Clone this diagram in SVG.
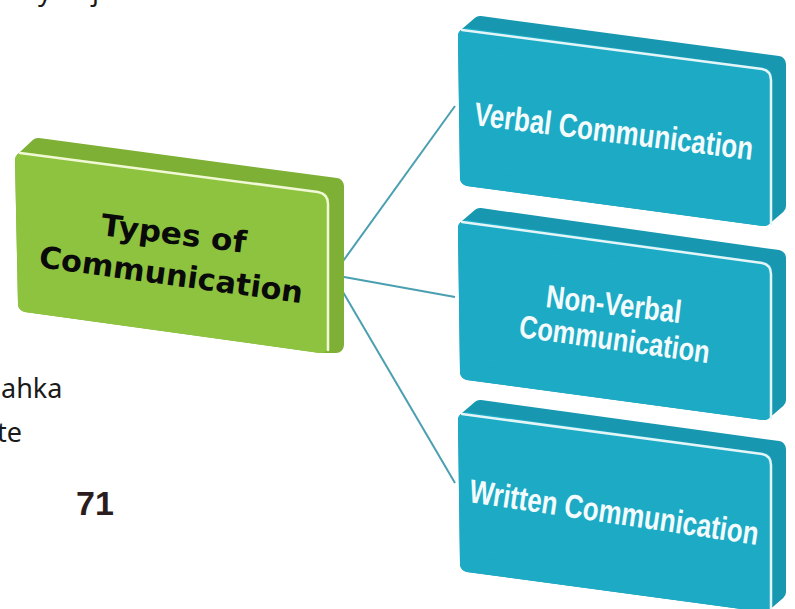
<svg xmlns="http://www.w3.org/2000/svg" width="795" height="609" viewBox="0 0 795 609">
<style>
.bk-b{fill:#1797b0;stroke:#1797b0;stroke-width:16;stroke-linejoin:round}
.fr-b{fill:#1caac5;stroke:#1caac5;stroke-width:16;stroke-linejoin:round}
.bk-g{fill:#7db034;stroke:#7db034;stroke-width:16;stroke-linejoin:round}
.fr-g{fill:#8dc33f;stroke:#8dc33f;stroke-width:16;stroke-linejoin:round}
.hl-b{fill:none;stroke:#e4f5f8;stroke-width:2.5;stroke-linecap:round}
.hl-g{fill:none;stroke:#f1f8d6;stroke-width:2.5;stroke-linecap:round}
.bt{font-family:"Liberation Sans Narrow","Liberation Sans",Arial,sans-serif;font-weight:bold;fill:#f4fbfc;lengthAdjust:spacingAndGlyphs}
.gt{font-family:"DejaVu Sans",sans-serif;font-weight:bold;fill:#0a0a0a}
.pg{font-family:"Noto Sans","Open Sans",sans-serif;font-size:27px;fill:#1a1a1a}
.conn{stroke:#4a9fb0;stroke-width:2;fill:none}
</style>
<rect width="795" height="609" fill="#ffffff"/>
<g id="page-text">
<text class="pg" x="38" y="0">y</text>
<text class="pg" x="92" y="0">j</text>
<text class="pg" x="1" y="398">ahka</text>
<text class="pg" x="-3" y="442">te</text>
<text x="76" y="515" font-family="Liberation Sans, Arial, sans-serif" font-weight="bold" font-size="34" fill="#2b1d1d">71</text>
</g>
<g id="connectors">
<line class="conn" x1="333" y1="275" x2="455" y2="106"/>
<line class="conn" x1="333" y1="275" x2="455" y2="297"/>
<line class="conn" x1="333" y1="275" x2="455" y2="483"/>
</g>
<g id="types-of-communication">
<polygon class="bk-g" points="23,160 38,146 336,186 336,345 321,345 26,304"/>
<polygon class="fr-g" points="23,160 321,200 321,345 26,304"/>
<path class="hl-g" d="M20,153 L318,192 Q328,194 328,204 L328,350"/>
<text class="gt" font-size="30" x="100" y="235" transform="rotate(7 100 235)" textLength="146" lengthAdjust="spacingAndGlyphs">Types of</text>
<text class="gt" font-size="30" x="38" y="267" transform="rotate(7.8 38 267)" textLength="266" lengthAdjust="spacingAndGlyphs">Communication</text>
</g>
<g id="verbal">
<polygon class="bk-b" points="466,36 480,24 778,64 778,206 764,218 468,178"/>
<polygon class="fr-b" points="466,36 764,76 764,218 468,178"/>
<path class="hl-b" d="M462,30 L762,69 Q771,71 771,80 L771,224"/>
<text class="bt" font-size="33" x="473" y="125" transform="rotate(7.15 473 125)" textLength="281" lengthAdjust="spacingAndGlyphs">Verbal Communication</text>
</g>
<g id="non-verbal">
<polygon class="bk-b" points="466,228 480,216 778,258 778,400 764,412 468,372"/>
<polygon class="fr-b" points="466,228 764,270 764,412 468,372"/>
<path class="hl-b" d="M462,222 L762,263 Q771,265 771,274 L771,418"/>
<text class="bt" font-size="32" x="545" y="307" transform="rotate(6.8 545 307)" textLength="136" lengthAdjust="spacingAndGlyphs">Non-Verbal</text>
<text class="bt" font-size="32" x="518" y="337" transform="rotate(7.8 518 337)" textLength="192" lengthAdjust="spacingAndGlyphs">Communication</text>
</g>
<g id="written">
<polygon class="bk-b" points="466,420 480,408 778,449 778,592 764,604 468,564"/>
<polygon class="fr-b" points="466,420 764,461 764,604 468,564"/>
<path class="hl-b" d="M462,414 L762,454 Q771,456 771,465 L771,612"/>
<text class="bt" font-size="33" x="468" y="502" transform="rotate(8.46 468 502)" textLength="292" lengthAdjust="spacingAndGlyphs">Written Communication</text>
</g>
</svg>
